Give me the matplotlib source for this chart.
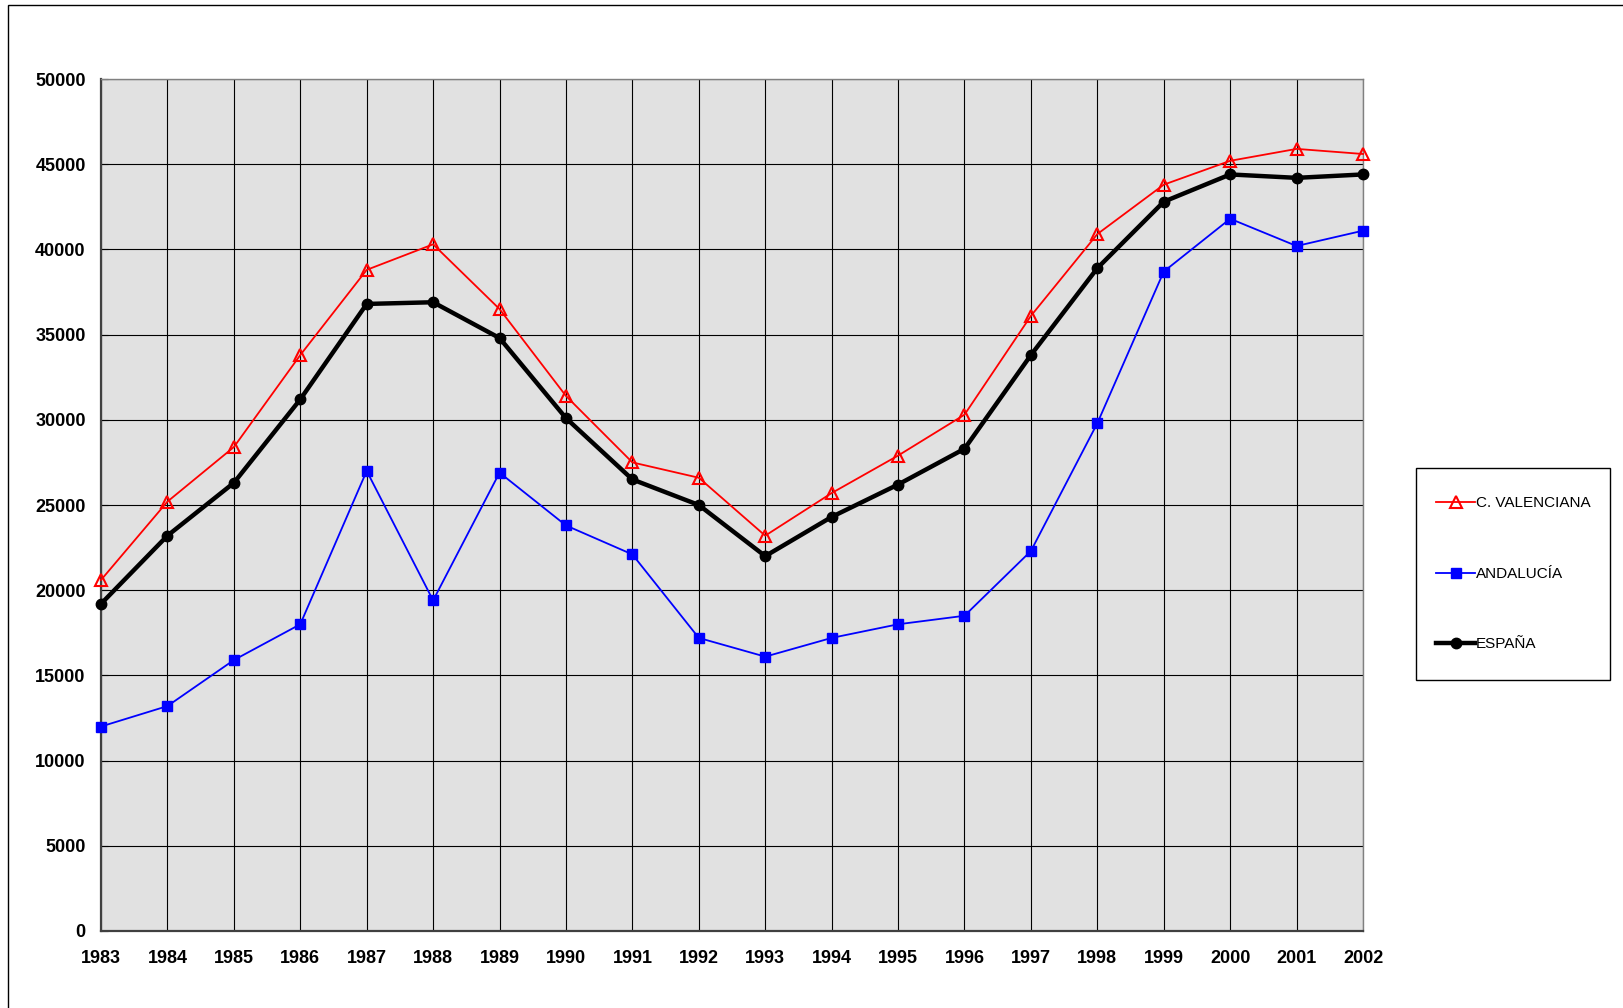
import matplotlib
matplotlib.use("Agg")
import matplotlib.pyplot as plt
from matplotlib.patches import Rectangle

plt.rcParams['font.family'] = ['Liberation Sans', 'DejaVu Sans']

years = list(range(1983, 2003))
valenciana = [20600, 25200, 28400, 33800, 38800, 40300, 36500, 31400, 27500, 26600,
              23200, 25700, 27900, 30300, 36100, 40900, 43800, 45200, 45900, 45600]
andalucia = [12000, 13200, 15900, 18000, 27000, 19400, 26900, 23800, 22100, 17200,
             16100, 17200, 18000, 18500, 22300, 29800, 38700, 41800, 40200, 41100]
espana = [19200, 23200, 26300, 31200, 36800, 36900, 34800, 30100, 26500, 25000,
          22000, 24300, 26200, 28300, 33800, 38900, 42800, 44400, 44200, 44400]

fig = plt.figure(figsize=(16.24, 10.08), dpi=100)
# outer chart frame
fig.patches.append(Rectangle((8 / 1624, -0.05), 1.2, 1 - 5 / 1008 + 0.05, transform=fig.transFigure,
                             fill=False, edgecolor='black', linewidth=1.0))
# legend frame
fig.patches.append(Rectangle((0.872, 0.3254), 0.1195, 0.2103, transform=fig.transFigure,
                             fill=True, facecolor='white', edgecolor='black', linewidth=1.0))

ax = fig.add_axes([0.0622, 0.0764, 0.7771, 0.8452])
ax.set_facecolor('#e1e1e1')

ax.plot(years, valenciana, color='#ff0000', linewidth=1.3, marker='^', markersize=8,
        markerfacecolor='none', markeredgecolor='#ff0000', markeredgewidth=1.5,
        label='C. VALENCIANA', clip_on=False, zorder=4)
ax.plot(years, andalucia, color='#0000ff', linewidth=1.3, marker='s', markersize=7.5,
        markerfacecolor='#0000ff', markeredgecolor='#0000ff',
        label='ANDALUCÍA', clip_on=False, zorder=4)
ax.plot(years, espana, color='black', linewidth=3.2, marker='o', markersize=7.5,
        label='ESPAÑA', clip_on=False, zorder=5)

ax.set_xlim(1983, 2002)
ax.set_ylim(0, 50000)
ax.set_xticks(years)
ax.set_yticks(range(0, 50001, 5000))
ax.grid(True, color='black', linewidth=0.8)
ax.set_axisbelow(True)

for s in ['top', 'right']:
    ax.spines[s].set_color('#808080')
    ax.spines[s].set_linewidth(1.0)
for s in ['left', 'bottom']:
    ax.spines[s].set_color('#404040')
    ax.spines[s].set_linewidth(1.6)

ax.tick_params(axis='y', direction='in', length=5, pad=11, labelsize=13)
ax.tick_params(axis='x', direction='in', length=0, pad=14, labelsize=13)
for lab in ax.get_xticklabels() + ax.get_yticklabels():
    lab.set_fontweight('bold')

leg = fig.legend(loc='center left', bbox_to_anchor=(0.8845, 0.4306),
                 fontsize=11, frameon=False, labelspacing=3.7,
                 borderpad=0, handlelength=2.5, handletextpad=0.1,
                 borderaxespad=0)

fig.savefig('out.png', dpi=100)
